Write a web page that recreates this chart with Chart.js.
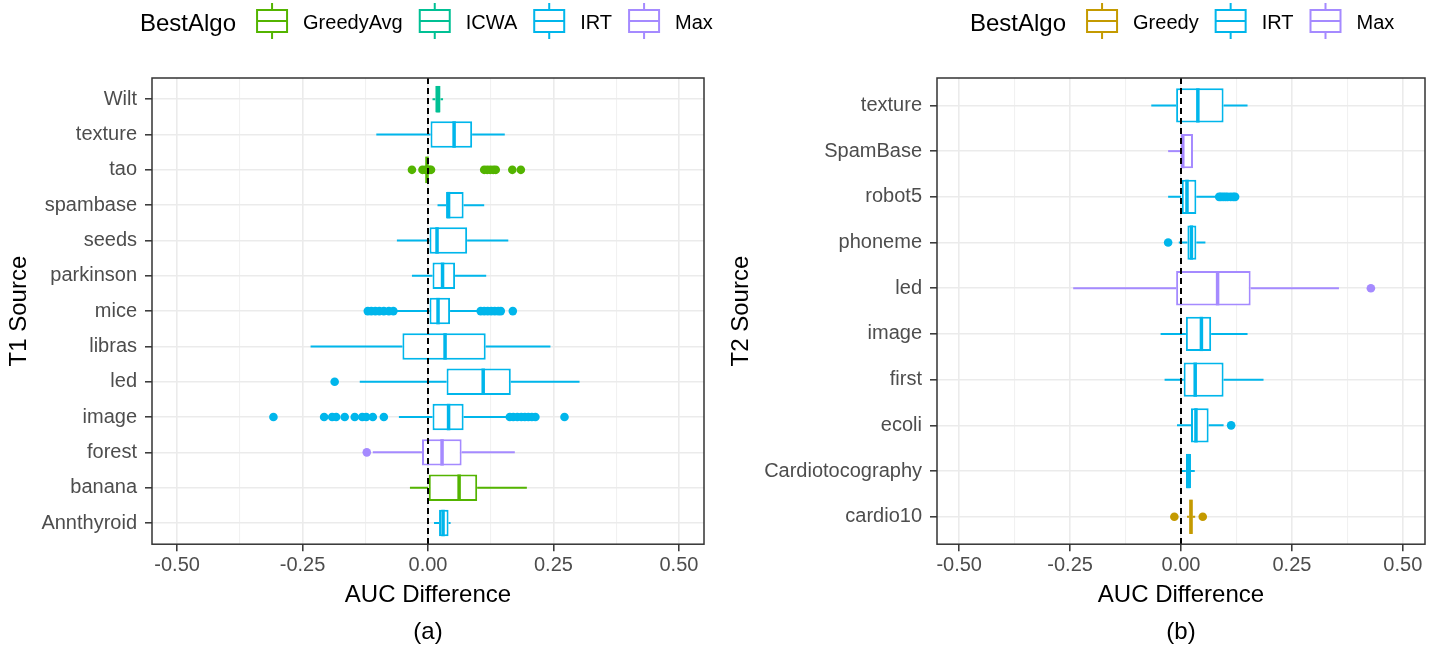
<!DOCTYPE html>
<html>
<head>
<meta charset="utf-8">
<script src="https://cdn.jsdelivr.net/npm/chart.js@4.4.1/dist/chart.umd.min.js"></script>
<style>
  html, body { margin: 0; padding: 0; background: #ffffff; }
  #wrap { position: relative; width: 1445px; height: 650px; overflow: hidden; }
  canvas { position: absolute; top: 0; }
  #panelA { left: 0; }
  #panelB { left: 722px; }
</style>
</head>
<body>
<div id="wrap">
  <canvas id="panelA" width="722" height="650"></canvas>
  <canvas id="panelB" width="723" height="650"></canvas>
</div>
<script>
// ---- Panel (a): T1 sources, listed bottom to top ----
const t1Sources  = ['Annthyroid', 'banana', 'forest', 'image', 'led', 'libras', 'mice', 'parkinson', 'seeds', 'spambase', 'tao', 'texture', 'Wilt'];
const t1BestAlgo = ['IRT', 'GreedyAvg', 'Max', 'IRT', 'IRT', 'IRT', 'IRT', 'IRT', 'IRT', 'IRT', 'GreedyAvg', 'IRT', 'ICWA'];
const t1Min      = [0.012, -0.036, -0.110, -0.058, -0.136, -0.234, -0.064, -0.032, -0.062, 0.019, -0.002, -0.103, 0.009];
const t1Q1       = [0.022,  0.000, -0.012,  0.009,  0.037, -0.051,  0.003,  0.009,  0.003, 0.036, -0.002,  0.005, 0.0145];
const t1Median   = [0.030,  0.062,  0.028,  0.041,  0.110,  0.034,  0.020,  0.029,  0.018, 0.041, -0.002,  0.052, 0.020];
const t1Q3       = [0.041,  0.098,  0.067,  0.071,  0.165,  0.115,  0.044,  0.054,  0.078, 0.071, -0.002,  0.088, 0.025];
const t1Max      = [0.045,  0.197,  0.173,  0.156,  0.302,  0.244,  0.103,  0.116,  0.160, 0.112, -0.002,  0.153, 0.030];
const t1Outliers = [
  [],
  [],
  [-0.122],
  [-0.308, -0.207, -0.191, -0.183, -0.166, -0.146, -0.131, -0.123, -0.110, -0.088,
    0.163, 0.170, 0.178, 0.186, 0.193, 0.200, 0.207, 0.214, 0.272],
  [-0.186],
  [],
  [-0.120, -0.113, -0.105, -0.097, -0.088, -0.078, -0.069,
    0.105, 0.112, 0.119, 0.126, 0.133, 0.140, 0.145, 0.169],
  [],
  [],
  [],
  [-0.032, -0.011, -0.005, 0.003, 0.006, 0.112, 0.118, 0.124, 0.130, 0.135, 0.168, 0.185],
  [],
  []
];
const t1Legend = ['GreedyAvg', 'ICWA', 'IRT', 'Max'];

// ---- Panel (b): T2 sources, listed bottom to top ----
const t2Sources  = ['cardio10', 'Cardiotocography', 'ecoli', 'first', 'image', 'led', 'phoneme', 'robot5', 'SpamBase', 'texture'];
const t2BestAlgo = ['Greedy', 'IRT', 'IRT', 'IRT', 'IRT', 'Max', 'IRT', 'IRT', 'Max', 'IRT'];
const t2Min      = [0.0135, 0.002, -0.009, -0.037, -0.046, -0.243, -0.005, -0.029, -0.029, -0.067];
const t2Q1       = [0.019,  0.011,  0.0225, 0.006,  0.011, -0.011,  0.0144, 0.000,  0.001, -0.011];
const t2Median   = [0.0225, 0.016,  0.0337, 0.032,  0.046,  0.0825, 0.0234, 0.0135, 0.004,  0.038];
const t2Q3       = [0.026,  0.0225, 0.0623, 0.096,  0.068,  0.157,  0.0346, 0.0346, 0.027,  0.096];
const t2Max      = [0.032,  0.031,  0.096,  0.186,  0.150,  0.356,  0.055,  0.080,  0.027,  0.150];
const t2Outliers = [
  [-0.015, 0.049],
  [],
  [0.113],
  [],
  [],
  [0.428],
  [-0.029],
  [0.086, 0.090, 0.095, 0.100, 0.105, 0.112, 0.118, 0.122],
  [],
  []
];
const t2Legend = ['Greedy', 'IRT', 'Max'];

// ---- Shared x axis ticks ----
const xMajorTicks  = [-0.5, -0.25, 0, 0.25, 0.5];
const xMajorLabels = ['-0.50', '-0.25', '0.00', '0.25', '0.50'];
const xMinorTicks  = [-0.375, -0.125, 0.125, 0.375];

// ---- Styles ----
const algoColors = {
  Greedy: '#C49A00',
  GreedyAvg: '#53B400',
  ICWA: '#00C094',
  IRT: '#00B6EB',
  Max: '#A58AFF'
};
const FONT = '"Liberation Sans", Arial, sans-serif';
Chart.defaults.font.family = FONT;

function isMajor(v) {
  return xMajorTicks.some(m => Math.abs(m - v) < 1e-9);
}

function buildPanel(canvasId, p) {
  const n = p.sources.length;
  const colorOf = i => algoColors[p.algo[i]];

  const boxData = p.sources.map((s, i) => ({ y: i, x: [p.q1[i], p.q3[i]] }));
  const outlierPts = [];
  const outlierCols = [];
  p.outliers.forEach((arr, i) => arr.forEach(v => {
    outlierPts.push({ x: v, y: i });
    outlierCols.push(colorOf(i));
  }));

  const boxParts = {
    id: 'boxParts',
    beforeDatasetsDraw(chart) {
      // whiskers sit behind the boxes
      const ctx = chart.ctx, xs = chart.scales.x, ys = chart.scales.y;
      ctx.save();
      ctx.lineWidth = 2;
      for (let i = 0; i < n; i++) {
        const y = ys.getPixelForValue(i);
        ctx.strokeStyle = colorOf(i);
        ctx.beginPath();
        ctx.moveTo(xs.getPixelForValue(p.min[i]), y);
        ctx.lineTo(xs.getPixelForValue(p.q1[i]), y);
        ctx.moveTo(xs.getPixelForValue(p.q3[i]), y);
        ctx.lineTo(xs.getPixelForValue(p.max[i]), y);
        ctx.stroke();
      }
      ctx.restore();
    },
    afterDatasetsDraw(chart) {
      const ctx = chart.ctx, xs = chart.scales.x, ys = chart.scales.y;
      const area = chart.chartArea;
      const meta = chart.getDatasetMeta(0);
      ctx.save();
      // medians
      ctx.lineWidth = 3.5;
      for (let i = 0; i < n; i++) {
        const el = meta.data[i];
        const h = el.height;
        const y = ys.getPixelForValue(i);
        const x = xs.getPixelForValue(p.median[i]);
        ctx.strokeStyle = colorOf(i);
        ctx.beginPath();
        ctx.moveTo(x, y - h / 2);
        ctx.lineTo(x, y + h / 2);
        ctx.stroke();
      }
      // dashed reference line at zero
      const x0 = xs.getPixelForValue(0);
      ctx.strokeStyle = '#000000';
      ctx.lineWidth = 2;
      ctx.setLineDash([6, 4]);
      ctx.beginPath();
      ctx.moveTo(x0, area.top);
      ctx.lineTo(x0, area.bottom);
      ctx.stroke();
      ctx.setLineDash([]);
      // panel border
      ctx.strokeStyle = '#333333';
      ctx.lineWidth = 1.5;
      ctx.strokeRect(area.left, area.top, area.right - area.left, area.bottom - area.top);
      ctx.restore();
    },
    afterDraw(chart) {
      // legend row: title followed by boxplot keys
      const ctx = chart.ctx;
      ctx.save();
      ctx.fillStyle = '#000000';
      ctx.textBaseline = 'alphabetic';
      ctx.textAlign = 'left';
      ctx.font = '24px ' + FONT;
      ctx.fillText('BestAlgo', p.legendX, 31);
      let x = p.legendX + ctx.measureText('BestAlgo').width + 20;
      ctx.font = '20px ' + FONT;
      p.legend.forEach(name => {
        const c = algoColors[name];
        ctx.strokeStyle = c;
        ctx.lineWidth = 2;
        const cx = x + 16;
        ctx.beginPath();
        ctx.moveTo(cx, 3); ctx.lineTo(cx, 10);
        ctx.moveTo(cx, 32); ctx.lineTo(cx, 39);
        ctx.moveTo(x + 1, 21); ctx.lineTo(x + 31, 21);
        ctx.stroke();
        ctx.strokeRect(x + 1, 10, 30, 22);
        const lx = x + 47;
        ctx.fillStyle = '#000000';
        ctx.fillText(name, lx, 29);
        x = lx + ctx.measureText(name).width + 16;
      });
      ctx.restore();
    }
  };

  return new Chart(document.getElementById(canvasId), {
    type: 'bar',
    data: {
      datasets: [
        {
          type: 'bar',
          indexAxis: 'y',
          data: boxData,
          backgroundColor: '#ffffff',
          borderColor: p.algo.map(a => algoColors[a]),
          borderWidth: 2,
          borderSkipped: false,
          barPercentage: 0.75,
          categoryPercentage: 1.0,
          order: 2
        },
        {
          type: 'scatter',
          indexAxis: 'x',
          data: outlierPts,
          backgroundColor: outlierCols,
          pointBackgroundColor: outlierCols,
          pointBorderWidth: 0,
          pointRadius: 4.3,
          showLine: false,
          order: 1
        }
      ]
    },
    options: {
      indexAxis: 'y',
      responsive: false,
      maintainAspectRatio: false,
      devicePixelRatio: 1,
      animation: false,
      events: [],
      layout: { padding: { top: 78, left: 0, right: p.padRight, bottom: 0 } },
      plugins: {
        legend: { display: false },
        tooltip: { enabled: false },
        title: {
          display: true,
          text: p.caption,
          position: 'bottom',
          fullSize: false,
          color: '#000000',
          font: { size: 24, weight: 'normal' },
          padding: { top: 0, bottom: 3 }
        }
      },
      scales: {
        x: {
          type: 'linear',
          position: 'bottom',
          min: -0.55,
          max: 0.55,
          beginAtZero: false,
          offset: false,
          afterBuildTicks(scale) {
            scale.ticks = xMajorTicks.concat(xMinorTicks).sort((a, b) => a - b).map(v => ({ value: v }));
          },
          afterFit(scale) { scale.height = 74; },
          ticks: {
            autoSkip: false,
            maxRotation: 0,
            minRotation: 0,
            padding: 2,
            color: '#4D4D4D',
            font: { size: 20 },
            callback: v => {
              const k = xMajorTicks.findIndex(m => Math.abs(m - v) < 1e-9);
              return k >= 0 ? xMajorLabels[k] : '';
            }
          },
          grid: {
            offset: false,
            color: ctx => (ctx.tick && isMajor(ctx.tick.value)) ? '#EBEBEB' : '#F1F1F1',
            lineWidth: ctx => (ctx.tick && isMajor(ctx.tick.value)) ? 1.6 : 1.1,
            tickColor: ctx => (ctx.tick && isMajor(ctx.tick.value)) ? '#333333' : 'rgba(0,0,0,0)',
            tickWidth: 1.5,
            tickLength: 7,
            drawTicks: true
          },
          border: { display: false },
          title: {
            display: true,
            text: 'AUC Difference',
            color: '#000000',
            font: { size: 24 },
            padding: { top: 0, bottom: 8 }
          }
        },
        y: {
          type: 'linear',
          position: 'left',
          min: -0.6,
          max: n - 1 + 0.6,
          beginAtZero: false,
          offset: false,
          afterBuildTicks(scale) {
            scale.ticks = p.sources.map((s, i) => ({ value: i }));
          },
          afterFit(scale) { scale.width = p.yAxisWidth; },
          ticks: {
            autoSkip: false,
            padding: 8,
            color: '#4D4D4D',
            font: { size: 20 },
            callback: v => p.sources[v]
          },
          grid: {
            offset: false,
            color: '#EBEBEB',
            lineWidth: 1.6,
            tickColor: '#333333',
            tickWidth: 1.5,
            tickLength: 7,
            drawTicks: true
          },
          border: { display: false },
          title: {
            display: true,
            text: p.yTitle,
            color: '#000000',
            font: { size: 24 },
            padding: { top: 5, bottom: 0 }
          }
        }
      }
    },
    plugins: [boxParts]
  });
}

buildPanel('panelA', {
  sources: t1Sources, algo: t1BestAlgo,
  min: t1Min, q1: t1Q1, median: t1Median, q3: t1Q3, max: t1Max,
  outliers: t1Outliers, legend: t1Legend,
  yTitle: 'T1 Source', caption: '(a)',
  yAxisWidth: 152, padRight: 18, legendX: 140
});

buildPanel('panelB', {
  sources: t2Sources, algo: t2BestAlgo,
  min: t2Min, q1: t2Q1, median: t2Median, q3: t2Q3, max: t2Max,
  outliers: t2Outliers, legend: t2Legend,
  yTitle: 'T2 Source', caption: '(b)',
  yAxisWidth: 215, padRight: 20, legendX: 248
});
</script>
</body>
</html>
